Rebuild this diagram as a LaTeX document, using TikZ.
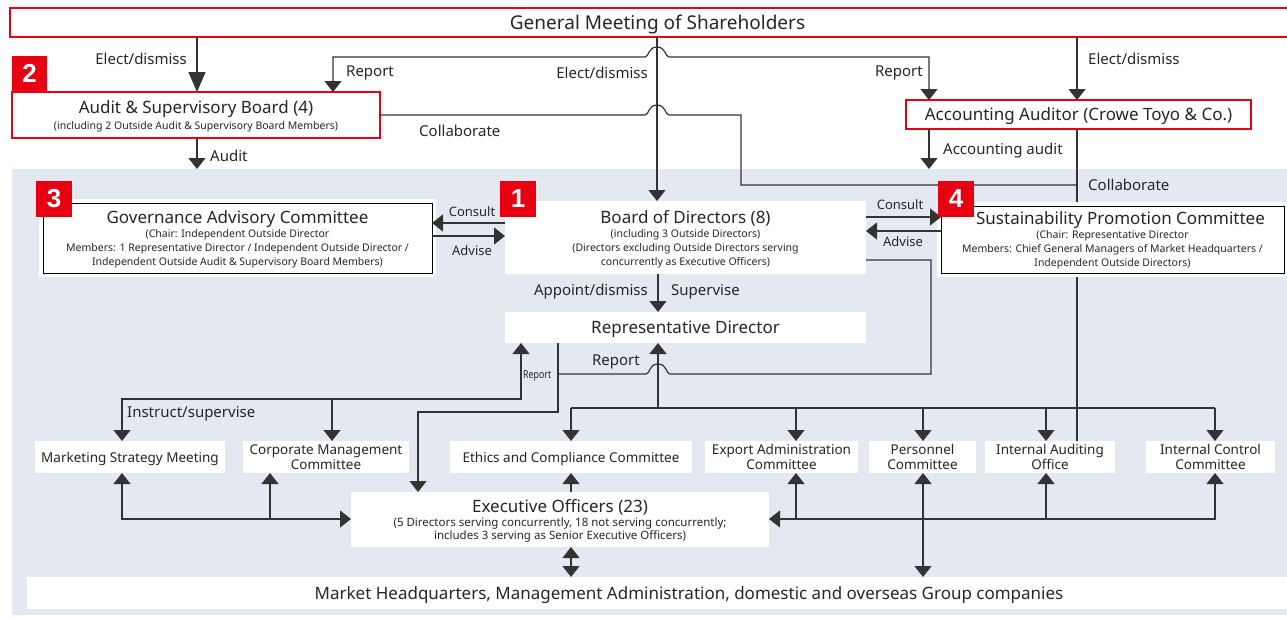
\documentclass[tikz,border=0pt]{standalone}
\usepackage{fontspec}
\setmainfont{Noto Sans}
\newfontfamily\bdgfam{Liberation Sans}
\usetikzlibrary{arrows.meta}
\definecolor{brandred}{HTML}{E60012}
\definecolor{bggray}{HTML}{E4E8F1}
\definecolor{linegray}{HTML}{333333}
\pgfdeclarelayer{back}
\pgfsetlayers{back,main}
\newcommand\gmfnt{\fontsize{19}{22}\selectfont}
\newcommand\ttlfnt{\fontsize{17}{20}\selectfont}
\newcommand\subfnt{\fontsize{10.5}{14}\selectfont}
\newcommand\eofnt{\fontsize{11.5}{13.5}\selectfont}
\newcommand\lblfnt{\fontsize{15}{17}\selectfont}
\newcommand\rowfnt{\fontsize{13.5}{15}\selectfont}
\newcommand\hqfnt{\fontsize{17}{19}\selectfont}
\newcommand\bdgfnt{\bdgfam\fontsize{26}{26}\selectfont\bfseries}
\tikzset{
  wbox/.style={fill=white, inner sep=0pt, outer sep=0pt, align=center, text=black!85, text depth=0pt},
  rbox/.style={wbox, draw=brandred, line width=1.3pt},
  kbox/.style={wbox, draw=black, line width=1pt, preaction={draw=white, line width=8pt}},
  badge/.style={fill=brandred, text=white, minimum size=36pt, inner sep=0pt, font=\bdgfnt},
  lbl/.style={font=\lblfnt, inner sep=0pt, text=black!85},
  ln/.style={line width=1.2pt, draw=linegray},
  arr/.style={ln, -{Triangle[width=17pt,length=11pt]}},
  bigarr/.style={ln, -{Triangle[width=17pt,length=20pt]}},
  darr/.style={ln, {Triangle[width=17pt,length=11pt]}-{Triangle[width=17pt,length=11pt]}},
}
\begin{document}
\begin{tikzpicture}[x=1pt,y=-1pt]
\useasboundingbox (0,0) rectangle (1287,618);

% ---------- boxes ----------
\node[rbox, font=\gmfnt, minimum width=1295pt, minimum height=29pt, anchor=north west] (gm) at (10,8) {General Meeting of Shareholders};

\node[rbox, font=\subfnt, minimum width=368pt, minimum height=46pt, anchor=north west] (asb) at (12,92)
  {{\ttlfnt Audit \& Supervisory Board (4)}\\[2pt](including 2 Outside Audit \& Supervisory Board Members)};

\node[rbox, font=\ttlfnt, minimum width=345pt, minimum height=29pt, anchor=north west] (aa) at (906,100) {Accounting Auditor (Crowe Toyo \& Co.)};

\node[kbox, font=\subfnt, minimum width=389pt, minimum height=70pt, anchor=north west] (gac) at (43,203)
  {{\ttlfnt Governance Advisory Committee}\\(Chair: Independent Outside Director\\Members: 1 Representative Director / Independent Outside Director /\\Independent Outside Audit \& Supervisory Board Members)};

\node[wbox, font=\subfnt, minimum width=361pt, minimum height=73pt, anchor=north west] (bod) at (505,201)
  {{\ttlfnt Board of Directors (8)}\\(including 3 Outside Directors)\\(Directors excluding Outside Directors serving\\concurrently as Executive Officers)};

\node[wbox, font=\ttlfnt, minimum width=361pt, minimum height=31pt, anchor=north west] (rd) at (505,312) {Representative Director};

\node[kbox, font=\subfnt, minimum width=343pt, minimum height=67pt, anchor=north west] (spc) at (941,206)
  {{\ttlfnt \hspace*{16pt}Sustainability Promotion Committee}\\(Chair: Representative Director\\Members: Chief General Managers of Market Headquarters /\\Independent Outside Directors)};

\node[wbox, font=\rowfnt, minimum width=190pt, minimum height=32pt, anchor=north west] (msm) at (35,441) {Marketing Strategy Meeting};
\node[wbox, font=\rowfnt, minimum width=166pt, minimum height=32pt, anchor=north west] (cmc) at (243,441) {Corporate Management\\Committee};
\node[wbox, font=\rowfnt, minimum width=242pt, minimum height=32pt, anchor=north west] (ecc) at (450,441) {Ethics and Compliance Committee};
\node[wbox, font=\rowfnt, minimum width=153pt, minimum height=32pt, anchor=north west] (eac) at (705,441) {Export Administration\\Committee};
\node[wbox, font=\rowfnt, minimum width=107pt, minimum height=32pt, anchor=north west] (pc) at (869,441) {Personnel\\Committee};
\node[wbox, font=\rowfnt, minimum width=130pt, minimum height=32pt, anchor=north west] (iao) at (985,441) {Internal Auditing\\Office};
\node[wbox, font=\rowfnt, minimum width=129pt, minimum height=32pt, anchor=north west] (icc) at (1146,441) {Internal Control\\Committee};

\node[wbox, font=\eofnt, minimum width=418pt, minimum height=55pt, anchor=north west] (eo) at (351,492)
  {{\ttlfnt Executive Officers (23)}\\(5 Directors serving concurrently, 18 not serving concurrently;\\includes 3 serving as Senior Executive Officers)};

\node[wbox, font=\hqfnt, minimum width=1324pt, minimum height=32pt, anchor=north west] (mhq) at (27,577)
  {Market Headquarters, Management Administration, domestic and overseas Group companies};

% ---------- background layer ----------
\coordinate (auditend) at (197,169);
\coordinate (accend) at (929,169);
\coordinate (collab) at (1077,185);
\begin{pgfonlayer}{back}
  \fill[bggray] (12,169) rectangle (1300,615);
  \draw[ln] (1077,0 |- aa.south) -- (1077,0 |- iao.north);
\end{pgfonlayer}

% ---------- top connectors ----------
\draw[bigarr] (197,0 |- gm.south) -- (197,0 |- asb.north);
\draw[arr] (657,0 |- gm.south) -- (657,0 |- bod.north);
\draw[arr] (1077,0 |- gm.south) -- (1077,0 |- aa.north);

\draw[darr] (333,0 |- asb.north) -- (333,57) -- (645,57)
  .. controls (649,57) and (648,47) .. (657,47)
  .. controls (666,47) and (665,57) .. (669,57)
  -- (929,57) -- (929,0 |- aa.north);

\draw[ln] (asb.east) -- (645,115)
  .. controls (649,115) and (648,105) .. (657,105)
  .. controls (666,105) and (665,115) .. (669,115)
  -- (741,115) -- (741,185) -- (collab);

\draw[arr] (197,0 |- asb.south) -- (auditend);
\draw[arr] (929,0 |- aa.south) -- (accend);

% ---------- consult / advise ----------
\draw[arr] (bod.west |- 0,223) -- (gac.east |- 0,223);
\draw[arr] (gac.east |- 0,236) -- (bod.west |- 0,236);
\draw[arr] (bod.east |- 0,217) -- (spc.west |- 0,217);
\draw[arr] (spc.west |- 0,231) -- (bod.east |- 0,231);

% ---------- board to representative director ----------
\draw[arr] (658,0 |- bod.south) -- (658,0 |- rd.north);

% report line from board
\draw[ln] (bod.east |- 0,260) -- (931,260) -- (931,374) -- (670,374)
  .. controls (666,374) and (667,364) .. (658,364)
  .. controls (649,364) and (650,374) .. (646,374) -- (558,374);

% representative director to executive officers
\draw[arr] (558,0 |- rd.south) -- (558,412) -- (418,412) -- (418,0 |- eo.north);

% left branch: report / instruct
\draw[darr] (122,0 |- msm.north) -- (122,399) -- (521,399) -- (521,0 |- rd.south);
\draw[arr] (332,399) -- (332,0 |- cmc.north);

% right branch
\draw[arr] (658,408) -- (658,0 |- rd.south);
\draw[ln] (571,408) -- (1215,408);
\draw[arr] (571,408) -- (571,0 |- ecc.north);
\draw[arr] (796,408) -- (796,0 |- eac.north);
\draw[arr] (923,408) -- (923,0 |- pc.north);
\draw[arr] (1046,408) -- (1046,0 |- iao.north);
\draw[arr] (1215,408) -- (1215,0 |- icc.north);

% ---------- executive officers links ----------
\draw[darr] (122,0 |- msm.south) -- (122,519) -- (eo.west |- 0,519);
\draw[arr] (270,519) -- (270,0 |- cmc.south);
\draw[arr] (571,0 |- eo.north) -- (571,0 |- ecc.south);
\draw[darr] (1215,0 |- icc.south) -- (1215,519) -- (eo.east |- 0,519);
\draw[arr] (796,519) -- (796,0 |- eac.south);
\draw[arr] (1046,519) -- (1046,0 |- iao.south);
\draw[darr] (923,0 |- pc.south) -- (923,0 |- mhq.north);
\draw[darr] (571,0 |- eo.south) -- (571,0 |- mhq.north);

% ---------- badges ----------
\node[badge, minimum size=35pt] (b2) at (29.5,73.5) {2};
\node[badge] (b3) at (54,199) {3};
\node[badge] (b1) at (518,199) {1};
\node[badge] (b4) at (956,199) {4};

% ---------- labels ----------
\node[lbl, anchor=east] (l1) at (187,59) {Elect/dismiss};
\node[lbl, anchor=east] (l2) at (648,73) {Elect/dismiss};
\node[lbl, anchor=west] (l3) at (1088,59) {Elect/dismiss};
\node[lbl, anchor=west] (l4) at (346,73) {Report};
\node[lbl, anchor=east] (l5) at (923,73) {Report};
\node[lbl, anchor=west] (l6) at (419,131) {Collaborate};
\node[lbl, anchor=west] (l7) at (1088,185) {Collaborate};
\node[lbl, anchor=west] (l8) at (210,156) {Audit};
\node[lbl, anchor=west] (l9) at (943,151) {Accounting audit};
\node[lbl, font=\fontsize{13}{15}\selectfont] (l10) at (472,212) {Consult};
\node[lbl, font=\fontsize{13}{15}\selectfont] (l11) at (472,251) {Advise};
\node[lbl, font=\fontsize{13}{15}\selectfont] (l12) at (900,205) {Consult};
\node[lbl, font=\fontsize{13}{15}\selectfont] (l13) at (903,242) {Advise};
\node[lbl, anchor=east] (l14) at (648,292) {Appoint/dismiss};
\node[lbl, anchor=west] (l15) at (671,292) {Supervise};
\node[lbl, anchor=east] (l16) at (640,362) {Report};
\node[lbl, anchor=west, font=\fontsize{11}{12}\selectfont] (l17) at (523,376) {\scalebox{0.8}[1]{Report}};
\node[lbl, anchor=west] (l18) at (127,414) {Instruct/supervise};
\end{tikzpicture}
\end{document}
